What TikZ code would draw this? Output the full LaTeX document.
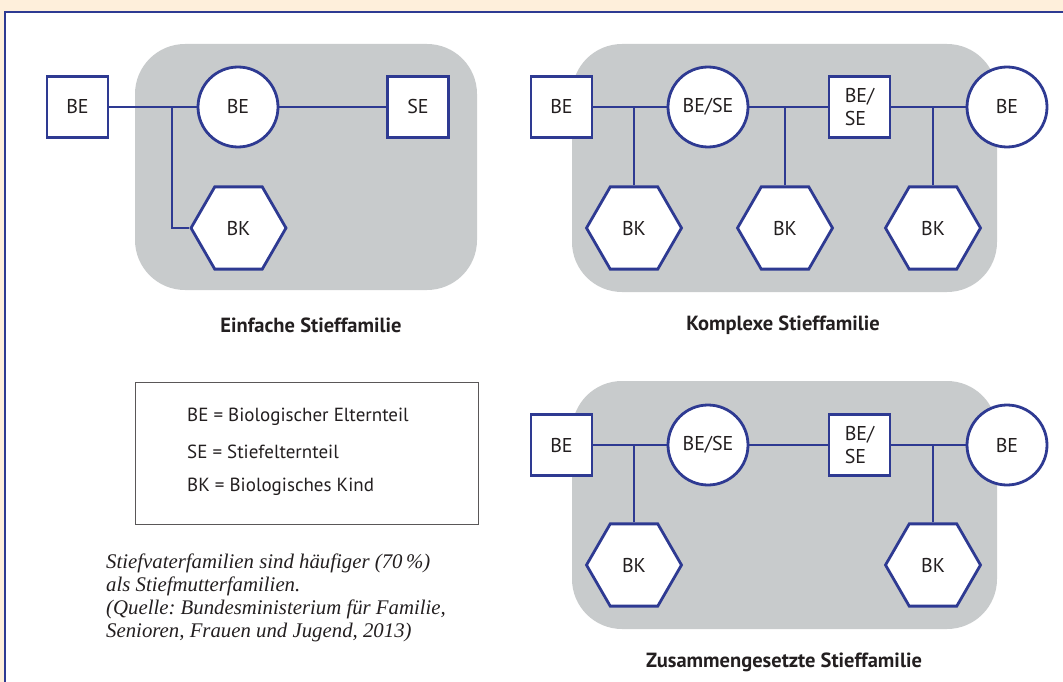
\documentclass[tikz,border=0pt]{standalone}
\usepackage{fontspec}
\setmainfont{PT Sans}
\newfontfamily\notefont{Liberation Serif}
\usetikzlibrary{shapes.geometric}
\definecolor{frameblue}{HTML}{2E3A92}
\definecolor{panelgray}{HTML}{C8CBCC}
\definecolor{bgyellow}{HTML}{FEEFDB}
\definecolor{txt}{HTML}{231F20}
\frenchspacing
\tikzset{
  panel/.style={fill=panelgray, rounded corners=50pt},
  lbl/.style={font=\fontsize{20}{24}\selectfont, text=txt},
  sq/.style={lbl, draw=frameblue, fill=white, line width=2.8pt, minimum size=61pt, inner sep=0pt},
  circ/.style={lbl, circle, draw=frameblue, fill=white, line width=2.8pt, minimum size=80pt, inner sep=0pt},
  hex/.style={lbl, regular polygon, regular polygon sides=6, draw=frameblue, fill=white, line width=2.8pt, minimum size=95pt, inner sep=0pt},
  conn/.style={draw=frameblue, line width=2.8pt},
  title/.style={font=\bfseries\fontsize{20.5}{24}\selectfont, text=txt},
  legend/.style={anchor=west, text=txt, inner sep=0pt, font=\fontsize{19}{23}\selectfont},
}
\begin{document}
\begin{tikzpicture}[x=1pt,y=-1pt]
\useasboundingbox (0,0) rectangle (1063,682);
\fill[bgyellow] (0,0) rectangle (1063,682);
\fill[white] (5,12) rectangle (1075,695);
\draw[frameblue, line width=1.5pt] (1075,12) -- (5,12) -- (5,695);

% panels
\fill[panel] (135,44) rectangle (477,290);
\fill[panel] (572,44) rectangle (997,292);
\fill[panel] (572,381) rectangle (997,629);

% Panel 1: Einfache
\node[sq] (a1) at (77.5,107) {BE};
\node[circ] (a2) at (238,107) {BE};
\node[sq] (a3) at (418,107) {SE};
\node[hex] (a4) at (238.5,228) {BK};
\coordinate (aj) at (172,107);
\draw[conn] (a1.east) -- (a2.west);
\draw[conn] (a2.east) -- (a3.west);
\draw[conn] (aj) |- (a4.west);
\node[title] (t1) at (311,325) {Einfache Stieffamilie};

% Panel 2: Komplexe
\node[sq] (b1) at (561.5,107) {BE};
\node[circ] (b2) at (708,107) {BE/SE};
\node[sq, align=left] (b3) at (859.5,107) {BE/\\[-1pt]SE};
\node[circ] (b4) at (1007,107) {BE};
\node[hex] (b5) at (634,228) {BK};
\node[hex] (b6) at (785,228) {BK};
\node[hex] (b7) at (933,228) {BK};
\draw[conn] (b1.east) -- (b2.west);
\draw[conn] (b2.east) -- (b3.west);
\draw[conn] (b3.east) -- (b4.west);
\draw[conn] (b5.north) -- (b5.north |- b1.east);
\draw[conn] (b6.north) -- (b6.north |- b1.east);
\draw[conn] (b7.north) -- (b7.north |- b1.east);
\node[title] (t2) at (783,325) {Komplexe Stieffamilie};

% Panel 3: Zusammengesetzte
\node[sq] (c1) at (561.5,445) {BE};
\node[circ] (c2) at (708,445) {BE/SE};
\node[sq, align=left] (c3) at (859.5,445) {BE/\\[-1pt]SE};
\node[circ] (c4) at (1007,445) {BE};
\node[hex] (c5) at (634,565) {BK};
\node[hex] (c7) at (933,565) {BK};
\draw[conn] (c1.east) -- (c2.west);
\draw[conn] (c2.east) -- (c3.west);
\draw[conn] (c3.east) -- (c4.west);
\draw[conn] (c5.north) -- (c5.north |- c1.east);
\draw[conn] (c7.north) -- (c7.north |- c1.east);
\node[title] (t3) at (784,662) {Zusammengesetzte Stieffamilie};

% Legend
\draw[draw=txt!75, line width=1pt] (135,382) rectangle (478,524);
\node[legend] (l1) at (187,417) {BE = Biologischer Elternteil};
\node[legend] (l2) at (187,452) {SE = Stiefelternteil};
\node[legend] (l3) at (187,487) {BK = Biologisches Kind};

% Note
\node[anchor=north west, align=left, text=txt, inner sep=0pt, font=\notefont\itshape\fontsize{20.8}{23}\selectfont] (n1) at (106,554)
 {Stiefvaterfamilien sind häufiger (70\,\%)\\als Stiefmutterfamilien.\\(Quelle: Bundesministerium für Familie,\\Senioren, Frauen und Jugend, 2013)};
\end{tikzpicture}
\end{document}
